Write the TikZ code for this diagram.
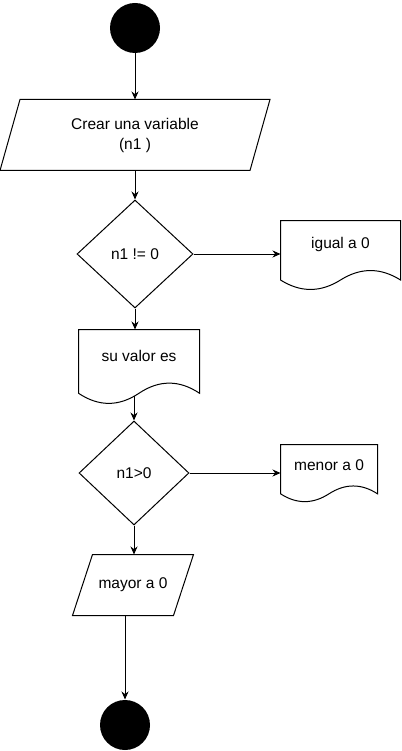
\documentclass[tikz,border=0pt]{standalone}
\usepackage{fontspec}
\setmainfont{Liberation Sans}
\usepackage{tikz}
\usetikzlibrary{shapes.geometric, arrows.meta, calc}

% hoja con borde ondulado: nodo, altura total
\newcommand{\docoutline}[2]{%
  \draw let \p1=(#1.north west), \p2=(#1.north east), \n1={\x2-\x1}, \n2={#2} in
    (\p1) -- (\p2) -- (\x2,\y2-0.85*\n2)
    .. controls (\x1+0.8333*\n1,\y1-0.67*\n2) and (\x1+0.6667*\n1,\y1-0.67*\n2) .. (\x1+0.5*\n1,\y1-0.85*\n2)
    .. controls (\x1+0.3333*\n1,\y1-1.03*\n2) and (\x1+0.1667*\n1,\y1-1.03*\n2) .. (\x1,\y1-0.85*\n2) -- cycle;}
% paralelogramo: nodo, inclinacion
\newcommand{\slantbox}[2]{%
  \draw ([xshift=#2]#1.north west) -- (#1.north east) -- ([xshift=-#2]#1.south east) -- (#1.south west) -- cycle;}

\begin{document}
\begin{tikzpicture}[x=1pt, y=-1pt, line width=1pt,
    every node/.style={font=\fontsize{15.5}{20}\selectfont, align=center, inner sep=0pt},
    flecha/.style={-{Stealth[length=8pt,width=7pt]}},
    terminal/.style={circle, fill=black, minimum size=50pt},
    decision/.style={diamond, draw}]
    \useasboundingbox (0,0) rectangle (401,751);
    % inicio
    \node[terminal] (inicio) at (135,28) {};
    \node[minimum width=269pt, minimum height=70pt] (crear) at (135,135) {Crear una variable\\(n1 )};
    \slantbox{crear}{20pt}
    \node[decision, minimum width=116pt, minimum height=108pt] (d1) at (135,254) {n1 != 0};
    \node[minimum width=119pt, minimum height=47.6pt] (igual) at (340.5,244.8) {igual a 0};
    \docoutline{igual}{70}
    \node[minimum width=120pt, minimum height=51pt] (su) at (139,355.5) {su valor es};
    \docoutline{su}{75}
    \coordinate (suout) at (134,396);
    % segunda decision
    \node[decision, minimum width=110pt, minimum height=104pt] (d2) at (134,473) {n1>0};
    \node[minimum width=96pt, minimum height=39.4pt] (menor) at (329,464.7) {menor a 0};
    \docoutline{menor}{58}
    \node[minimum width=120pt, minimum height=60pt] (mayor) at (133,585) {mayor a 0};
    \slantbox{mayor}{20pt}
    \node[terminal] (fin) at (125,725) {};
    % flechas
    \draw[flecha] (inicio) -- (crear.north);
    \draw[flecha] (crear.south) -- (d1.north);
    \draw[flecha] (d1.east) -- (d1.east -| igual.west);
    \draw[flecha] (d1.south) -- (d1.south |- su.north);
    \draw[flecha] (suout) -- (d2.north);
    \draw[flecha] (d2.east) -- (d2.east -| menor.west);
    \draw[flecha] (d2.south) -- (d2.south |- mayor.north);
    \draw[flecha] (fin.north |- mayor.south) -- (fin.north);
\end{tikzpicture}
\end{document}
